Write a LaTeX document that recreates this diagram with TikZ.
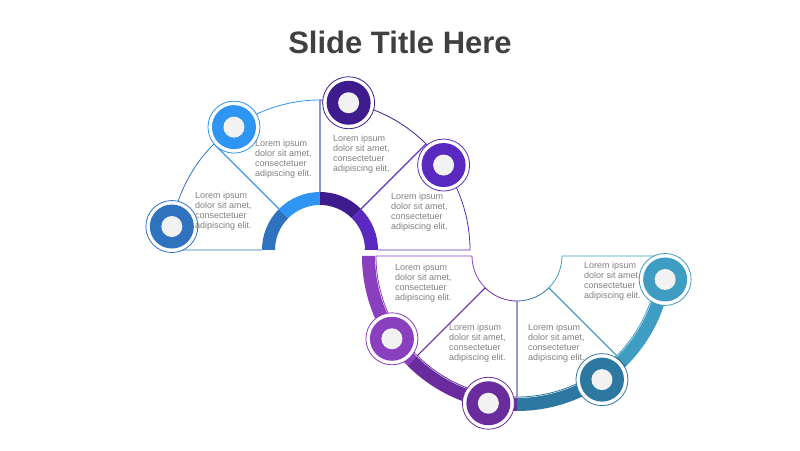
\documentclass[tikz,border=0pt]{standalone}
\usepackage{fontspec}
\setmainfont{Liberation Sans}
\usetikzlibrary{calc}
\begin{document}
\begin{tikzpicture}[x=1pt,y=1pt,
  txt/.style={anchor=north west,align=left,text=black!50,font=\fontsize{9}{10}\selectfont,inner sep=0pt},
  mk/.style={circle,minimum size=#1}]
\useasboundingbox (0,0) rectangle (800,450);
\definecolor{cA}{HTML}{2F72BE}\definecolor{cB}{HTML}{2E95F2}
\definecolor{cC}{HTML}{3E1C8E}\definecolor{cD}{HTML}{5A2AC0}
\definecolor{cE}{HTML}{8A3FBF}\definecolor{cF}{HTML}{6A2C9C}
\definecolor{cG}{HTML}{2C78A0}\definecolor{cH}{HTML}{3F9CC2}
\node[font=\bfseries\fontsize{31}{36}\selectfont,text=black!75] (title) at (400,408) {Slide Title Here};
\coordinate (O1) at (320,200);
\coordinate (O2) at (517,194);
\foreach \a/\b/\c/\m in {135/180/cA/171,90/135/cB/125,45/90/cC/79,0/45/cD/34.5}{
 \begin{scope}[shift={(\a/2+\b/2:3)}]
  \draw[\c,line width=0.8pt,line join=round] ($(O1)+(\a:58)$) -- ($(O1)+(\a:150)$) arc[start angle=\a,end angle=\b,radius=150] -- ($(O1)+(\b:58)$);
  \fill[\c] ($(O1)+(\a:45)$) -- ($(O1)+(\a:58)$) arc[start angle=\a,end angle=\b,radius=58] -- ($(O1)+(\b:45)$) arc[start angle=\b,end angle=\a,radius=45] -- cycle;
  \path ($(O1)+(\m:150)$) node[mk=52pt,fill=white,draw=\c,line width=0.8pt] {} node[mk=44pt,fill=\c] {} node[mk=21pt,fill=white!95!black] {};
 \end{scope}
}
\foreach \a/\b/\c/\m in {180/225/cE/213.5,225/270/cF/259,270/315/cG/304.5,315/360/cH/351}{
 \begin{scope}[shift={(\a/2+\b/2:3)}]
  \draw[\c,line width=0.8pt,line join=round] ($(O2)+(\a:45)$) -- ($(O2)+(\a:141)$) arc[start angle=\a,end angle=\b,radius=141] -- ($(O2)+(\b:45)$) arc[start angle=\b,end angle=\a,radius=45];
  \fill[\c] ($(O2)+(\a:142)$) -- ($(O2)+(\a:155)$) arc[start angle=\a,end angle=\b,radius=155] -- ($(O2)+(\b:142)$) arc[start angle=\b,end angle=\a,radius=142] -- cycle;
  \path ($(O2)+(\m:150)$) node[mk=52pt,fill=white,draw=\c,line width=0.8pt] {} node[mk=44pt,fill=\c] {} node[mk=21pt,fill=white!95!black] {};
 \end{scope}
}
\node[txt] (t1) at (195,258) {Lorem ipsum\\dolor sit amet,\\consectetuer\\adipiscing elit.};
\node[txt] (t2) at (255,310) {Lorem ipsum\\dolor sit amet,\\consectetuer\\adipiscing elit.};
\node[txt] (t3) at (333,315) {Lorem ipsum\\dolor sit amet,\\consectetuer\\adipiscing elit.};
\node[txt] (t4) at (391,257) {Lorem ipsum\\dolor sit amet,\\consectetuer\\adipiscing elit.};
\node[txt] (t5) at (395,186) {Lorem ipsum\\dolor sit amet,\\consectetuer\\adipiscing elit.};
\node[txt] (t6) at (449,126) {Lorem ipsum\\dolor sit amet,\\consectetuer\\adipiscing elit.};
\node[txt] (t7) at (528,126) {Lorem ipsum\\dolor sit amet,\\consectetuer\\adipiscing elit.};
\node[txt] (t8) at (584,188) {Lorem ipsum\\dolor sit amet,\\consectetuer\\adipiscing elit.};
\end{tikzpicture}
\end{document}
